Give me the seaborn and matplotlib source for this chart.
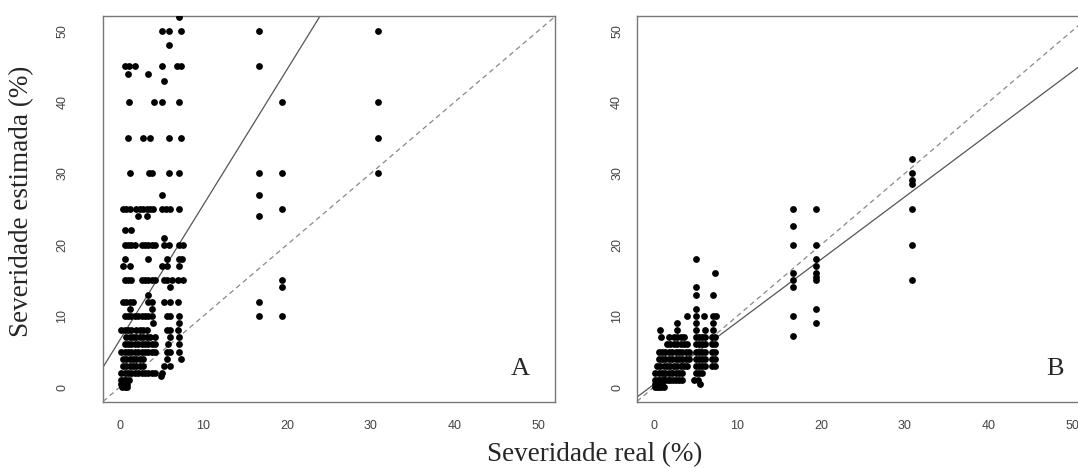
"""
Severidade estimada vs real - panels A (sem escala) and B (com escala)
"""

import numpy as np
import pandas as pd
import matplotlib
matplotlib.use("Agg")
import matplotlib.pyplot as plt
import seaborn as sns

# estimated severity levels (y) and the real severities (x) seen at each level
a_est = [52, 50, 48, 45, 44, 43, 40, 35, 30, 27, 25, 24, 22, 21, 20, 18, 17, 15, 14, 13,
         12, 11, 10, 9, 8, 7, 6, 5, 4, 3, 2, 1.5, 1, 0.5, 0]
a_real = [
    [7.1],
    [5.1, 5.9, 7.3, 16.6, 30.9],
    [5.9],
    [0.6, 1.1, 1.8, 5.1, 6.9, 7.3, 16.6],
    [1.0, 3.4],
    [5.3],
    [1.1, 4.1, 5.1, 7.1, 19.4, 30.9],
    [1.0, 2.8, 3.6, 5.9, 7.3, 30.9],
    [1.2, 3.5, 3.9, 5.9, 7.1, 16.6, 19.4, 30.9],
    [5.1, 16.6],
    [0.4, 0.8, 1.2, 2.0, 2.4, 2.8, 3.2, 3.6, 4.0, 5.0, 5.5, 6.0, 7.1, 19.4],
    [2.2, 3.2, 16.6],
    [0.6, 1.4],
    [5.3],
    [0.6, 1.0, 1.4, 1.8, 2.6, 3.0, 3.4, 3.8, 4.2, 5.3, 5.9, 7.1, 7.5],
    [0.6, 3.4, 5.7, 7.1, 7.4],
    [0.4, 1.2, 5.0, 5.7, 7.1],
    [0.6, 1.0, 1.4, 2.6, 3.0, 3.4, 3.8, 4.2, 5.3, 5.7, 6.2, 7.0, 7.5, 19.4],
    [6.0, 19.4],
    [3.4],
    [0.4, 0.8, 1.2, 1.6, 3.4, 3.8, 5.3, 6.0, 7.0, 16.6],
    [1.2, 3.8],
    [0.6, 1.0, 1.4, 1.8, 2.2, 2.6, 3.0, 3.4, 3.8, 5.7, 6.0, 7.1, 16.6, 19.4],
    [4.0, 7.1],
    [0.2, 0.6, 1.0, 1.4, 2.0, 2.4, 2.8, 3.2, 5.7, 6.0, 7.0],
    [0.8, 1.2, 1.6, 2.0, 2.4, 2.8, 3.2, 3.6, 4.2, 6.0, 7.1],
    [0.6, 1.0, 1.4, 1.8, 2.2, 2.6, 3.0, 3.4, 3.8, 4.2, 5.8, 7.1],
    [0.2, 0.6, 1.0, 1.4, 1.8, 2.2, 2.6, 3.0, 3.4, 3.8, 4.2, 5.7, 6.0, 7.1],
    [0.4, 0.8, 1.2, 1.6, 2.0, 2.4, 2.8, 5.7, 7.3],
    [0.4, 0.8, 1.2, 1.6, 2.0, 2.4, 2.8, 5.3, 6.0],
    [0.2, 0.6, 1.0, 1.4, 1.8, 2.2, 2.6, 3.0, 3.4, 3.8, 4.2, 5.1],
    [4.9],
    [0.2, 0.5, 0.8, 1.1],
    [0.2, 0.4, 0.6, 0.9],
    [0.3, 0.6, 0.9],
]

b_est = [32, 30, 29, 28.5, 25, 22.6, 20, 18, 17, 16, 15.5, 15, 14, 13, 11, 10, 9, 8, 7.2,
         7, 6, 5, 4, 3, 2, 1, 0.5, 0]
b_real = [
    [30.9],
    [30.9],
    [30.9],
    [30.9],
    [16.6, 19.4, 30.9],
    [16.6],
    [16.6, 19.4, 30.9],
    [5.0, 19.4],
    [19.4],
    [7.3, 16.6, 19.4],
    [19.4],
    [16.6, 19.4, 30.9],
    [5.0, 16.6],
    [5.0, 7.1],
    [5.0, 19.4],
    [4.0, 5.0, 6.0, 7.1, 7.4, 16.6],
    [2.8, 5.0, 7.1, 19.4],
    [0.8, 2.8, 5.0, 6.1, 7.1],
    [16.6],
    [0.9, 1.8, 2.4, 2.8, 3.2, 3.6, 5.0, 5.4, 5.8, 6.1, 7.0, 7.3],
    [1.6, 2.0, 2.4, 2.8, 3.2, 3.6, 4.0, 5.0, 5.4, 5.8, 6.1, 7.0, 7.3],
    [0.6, 1.0, 1.4, 1.8, 2.2, 2.6, 3.0, 3.4, 3.8, 4.2, 5.0, 5.4, 5.8, 6.1, 7.0, 7.3],
    [0.6, 1.0, 1.4, 1.8, 2.2, 2.6, 3.0, 3.4, 3.8, 4.2, 5.0, 5.4, 5.8, 6.1, 7.0, 7.3],
    [0.4, 0.8, 1.2, 1.6, 2.0, 2.4, 2.8, 3.2, 3.6, 4.0, 5.0, 5.4, 5.8, 6.1, 7.0, 7.3],
    [0.2, 0.6, 1.0, 1.4, 1.8, 2.2, 2.6, 3.0, 3.4, 5.0, 5.4, 5.8],
    [0.2, 0.5, 0.8, 1.1, 1.4, 1.7, 2.0, 2.3, 2.6, 3.0, 3.4, 4.8, 5.3],
    [0.2, 0.4, 0.7, 1.0, 5.5],
    [0.2, 0.4, 0.6, 0.9, 1.2],
]

# fitted regression lines (intercept, slope)
fit_a = (6.6, 1.90)
fit_b = (0.37, 0.878)

ticks = [0, 10, 20, 30, 40, 50]


def to_frame(est, real):
    rows = [(x, y) for y, xs in zip(est, real) for x in xs]
    return pd.DataFrame(rows, columns=["real", "estimada"])


def draw_panel(ax, df, fit, letter):
    sns.scatterplot(data=df, x="real", y="estimada", ax=ax, color="black",
                    s=24, linewidth=0, legend=False, zorder=3)
    ax.axline((0, 0), slope=1, color="#888888", lw=0.9, ls=(0, (4, 3)), zorder=2)
    ax.axline((0, fit[0]), slope=fit[1], color="#555555", lw=0.9, zorder=2)
    ax.set_xlim(-2, 52)
    ax.set_ylim(-2.08, 52.08)
    ax.set_xticks(ticks)
    ax.set_yticks(ticks)
    ax.set_xlabel("")
    ax.set_ylabel("")
    for lab in ax.get_yticklabels():
        lab.set_rotation(90)
        lab.set_va("center")
    ax.tick_params(axis="both", length=5, width=0.8, color="#555555",
                   labelsize=9, labelcolor="#444444")
    ax.tick_params(axis="x", pad=8)
    for sp in ax.spines.values():
        sp.set_color("#777777")
        sp.set_linewidth(1.0)
    ax.text(49, 2.5, letter, ha="right", va="center", fontsize=19,
            family="Liberation Serif")


sns.set_theme(style="white")
plt.rcParams["font.family"] = ["Liberation Sans", "DejaVu Sans"]

fig = plt.figure(figsize=(10.78, 4.68), dpi=100)
W, H = 1078, 468
ax_a = fig.add_axes([103 / W, 66 / H, 452 / W, 386 / H])
ax_b = fig.add_axes([637 / W, 66 / H, 452 / W, 386 / H])

draw_panel(ax_a, to_frame(a_est, a_real), fit_a, "A")
draw_panel(ax_b, to_frame(b_est, b_real), fit_b, "B")

ax_a.tick_params(axis="y", pad=20)
ax_b.tick_params(axis="y", pad=5)

fig.text(22 / W, 1 - 201 / H, "Severidade estimada (%)", rotation=90,
         ha="center", va="center", fontsize=19.5, family="Liberation Serif")
fig.text(595 / W, 1 - 455 / H, "Severidade real (%)", ha="center", va="center",
         fontsize=19.5, family="Liberation Serif")

fig.savefig("out.png", dpi=100)
